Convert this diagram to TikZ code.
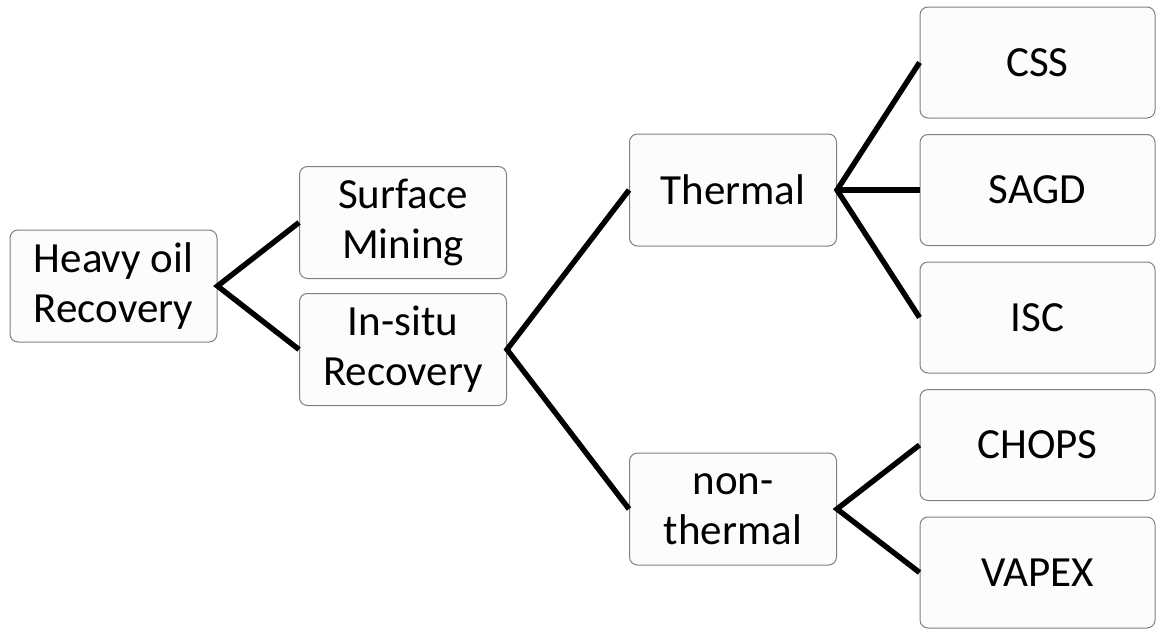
\documentclass[tikz,border=0pt]{standalone}
\usepackage{fontspec}
\setmainfont{Carlito}
\begin{document}
\begin{tikzpicture}[x=1pt,y=-1pt,
  box/.style={draw=black!50, line width=1pt, rounded corners=8pt, fill=black!1,
    align=center, inner sep=0pt, font=\fontsize{43}{50}\selectfont},
  lbox/.style={box, minimum width=207pt, minimum height=112pt},
  rbox/.style={box, minimum width=235pt, minimum height=111pt},
  link/.style={line width=5.4pt, line join=miter}]
\useasboundingbox (0,0) rectangle (1156,629);
\node[lbox] (heavy)   at (113.5,286) {Heavy oil\\Recovery};
\node[lbox] (surface) at (403,222.5) {Surface\\Mining};
\node[lbox] (insitu)  at (403,349.5) {In-situ\\Recovery};
\node[lbox] (thermal) at (733,190) {Thermal};
\node[lbox] (nonth)   at (733,509) {non-\\thermal};
\node[rbox] (css)   at (1037.5,62.5) {CSS};
\node[rbox] (sagd)  at (1037.5,190) {SAGD};
\node[rbox] (isc)   at (1037.5,317.5) {ISC};
\node[rbox] (chops) at (1037.5,445) {CHOPS};
\node[rbox] (vapex) at (1037.5,572.5) {VAPEX};
\draw[link] (surface.west) -- (heavy.east) -- (insitu.west);
\draw[link] (thermal.west) -- (insitu.east) -- (nonth.west);
\draw[link] (css.west) -- (thermal.east) -- (isc.west);
\draw[link] (thermal.east) -- (sagd.west);
\draw[link] (chops.west) -- (nonth.east) -- (vapex.west);
\end{tikzpicture}
\end{document}
